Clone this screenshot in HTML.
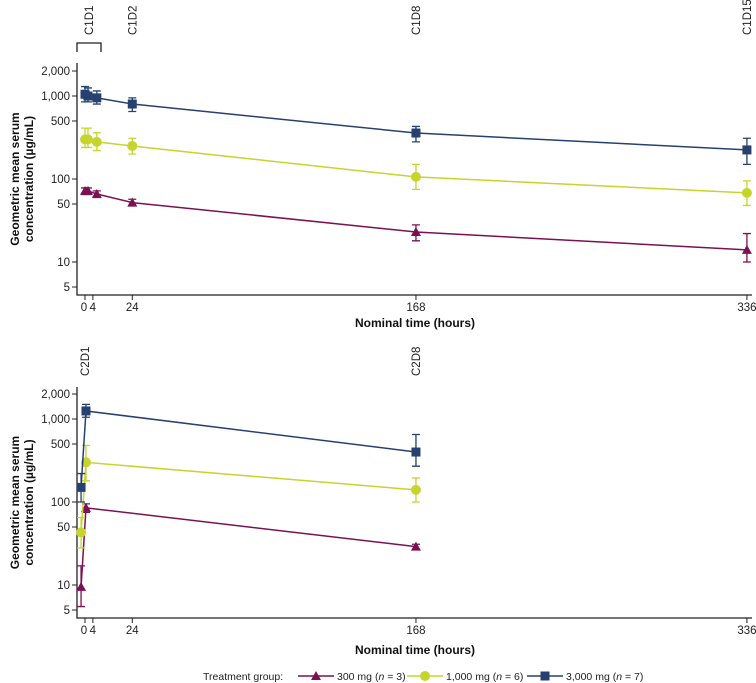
<!DOCTYPE html>
<html><head><meta charset="utf-8"><style>
body{margin:0;background:#fff;}
svg{display:block;font-family:"Liberation Sans",Arial,sans-serif;}
</style></head><body>
<svg id="chart" width="756" height="683" viewBox="0 0 756 683" xmlns="http://www.w3.org/2000/svg"></svg>
<script>
// ---- data ----
const yTicks = [2000, 1000, 500, 100, 50, 10, 5];
const yTickLabels = ["2,000", "1,000", "500", "100", "50", "10", "5"];
const xTicks = [0, 4, 24, 168, 336];
const xTickLabels = ["0", "4", "24", "168", "336"];
const groups = ["300 mg", "1,000 mg", "3,000 mg"];
const groupN = [3, 6, 7];
// Cycle 1
const c1Times = [0, 1.5, 6, 24, 168, 336];
const c1Mean300 = [72, 72, 66, 52, 23, 14];
const c1Lo300 = [65, 65, 60, 48, 18, 10];
const c1Hi300 = [78, 78, 72, 57, 28, 22];
const c1Mean1000 = [300, 300, 280, 250, 106, 68];
const c1Lo1000 = [240, 240, 220, 200, 75, 48];
const c1Hi1000 = [410, 410, 360, 310, 150, 95];
const c1Mean3000 = [1050, 1000, 950, 800, 358, 224];
const c1Lo3000 = [850, 850, 800, 650, 280, 150];
const c1Hi3000 = [1300, 1250, 1150, 950, 430, 310];
// Cycle 2
const c2Times = [-2, 0.5, 168];
const c2Mean300 = [9.5, 85, 29];
const c2Lo300 = [5.5, 75, 27];
const c2Hi300 = [17, 95, 31];
const c2Mean1000 = [43, 300, 140];
const c2Lo1000 = [28, 180, 100];
const c2Hi1000 = [65, 480, 195];
const c2Mean3000 = [150, 1250, 400];
const c2Lo3000 = [100, 1050, 270];
const c2Hi3000 = [220, 1500, 650];
const c1Visits = ["C1D2", "C1D8", "C1D15"];
const c1VisitTimes = [24, 168, 336];
const c2Visits = ["C2D1", "C2D8"];
const c2VisitTimes = [0, 168];

const colors = ["#7b1052", "#c6d52e", "#26406f"];
const shapes = ["tri", "circ", "sq"];
const NS = "http://www.w3.org/2000/svg";
const svg = document.getElementById("chart");
function mk(tag, attrs, parent) {
  const e = document.createElementNS(NS, tag);
  for (const k in attrs) e.setAttribute(k, attrs[k]);
  (parent || svg).appendChild(e);
  return e;
}
const xScale = t => 85 + t * 1.97;

function panel(p) {
  const g = mk("g", {});
  
  
  const yScale = v => p.y1000 - 83 * Math.log10(v / 1000);
  const ax = mk("path", {d: `M77 ${p.yTop} V${p.yBot} H752`, fill: "none", stroke: "#222", "stroke-width": 1.3}, g);
  
  
  yTicks.forEach((v, i) => {
    const y = yScale(v);
    mk("line", {x1: 72, x2: 77, y1: y, y2: y, stroke: "#222"}, g);
    const t = mk("text", {x: 70, y: y + 4, "text-anchor": "end", "font-size": 11.5, fill: "#222"}, g);
    t.textContent = yTickLabels[i];
    
    
  });
  xTicks.forEach((v, i) => {
    const x = xScale(v);
    mk("line", {x1: x, x2: x, y1: p.yBot, y2: p.yBot + 5, stroke: "#222"}, g);
    const t = mk("text", {x: x + (v === 0 ? -1 : v === 4 ? 0 : 0), y: p.yBot + 16, "text-anchor": "middle", "font-size": 11.5, fill: "#222"}, g);
    t.textContent = xTickLabels[i];
    
    
  });
  const xt = mk("text", {x: 415, y: p.yBot + p.titleOff, "text-anchor": "middle", "font-size": 12, "font-weight": "bold", fill: "#111"}, g);
  xt.textContent = "Nominal time (hours)";
  
  
  const yc = (p.yTop + p.yBot) / 2;
  const yt = mk("text", {transform: `translate(19 ${yc}) rotate(-90)`, "text-anchor": "middle", "font-size": 12, "font-weight": "bold", fill: "#111"}, g);
  
  
  const s1 = mk("tspan", {x: 0, dy: 0}, yt); s1.textContent = "Geometric mean serum";
  const s2 = mk("tspan", {x: 0, dy: 14}, yt); s2.textContent = "concentration (µg/mL)";
  p.visits.forEach((lab, i) => {
    const x = xScale(p.visitTimes[i]);
    const t = mk("text", {transform: `translate(${x + 4} ${p.visitY}) rotate(-90)`, "text-anchor": "start", "font-size": 11.5, fill: "#222"}, g);
    t.textContent = lab;
    
    
  });
  p.series.forEach((s, si) => {
    const c = colors[si];
    const sg = mk("g", {}, g);
    
    
    const pts = p.times.map((t, i) => [xScale(t), yScale(s.mean[i])]);
    mk("polyline", {points: pts.map(q => q.join(",")).join(" "), fill: "none", stroke: c, "stroke-width": 1.5}, sg);
    p.times.forEach((t, i) => {
      const x = xScale(t), lo = yScale(s.lo[i]), hi = yScale(s.hi[i]);
      mk("path", {d: `M${x} ${lo}V${hi}M${x-4} ${lo}H${x+4}M${x-4} ${hi}H${x+4}`, stroke: c, "stroke-width": 1.3, fill: "none"}, sg);
      drawMarker(sg, shapes[si], x, yScale(s.mean[i]), c);
    });
  });
}
function drawMarker(parent, shape, x, y, c) {
  let e;
  if (shape === "tri") e = mk("path", {d: `M${x} ${y-5}L${x+5} ${y+4}L${x-5} ${y+4}Z`, fill: c}, parent);
  else if (shape === "circ") e = mk("circle", {cx: x, cy: y, r: 5, fill: c}, parent);
  else e = mk("rect", {x: x - 4.5, y: y - 4.5, width: 9, height: 9, fill: c}, parent);
  
  
}

const br = mk("path", {d: "M77 52V43H101V52", fill: "none", stroke: "#222", "stroke-width": 1.3});


const c1d1 = mk("text", {transform: "translate(93 35) rotate(-90)", "text-anchor": "start", "font-size": 11.5, fill: "#222"});
c1d1.textContent = "C1D1";



panel({name: "cycle1-panel", y1000: 96, yTop: 63, yBot: 295, titleOff: 32, times: c1Times, visits: c1Visits, visitTimes: c1VisitTimes, visitY: 35,
  series: [{mean: c1Mean300, lo: c1Lo300, hi: c1Hi300}, {mean: c1Mean1000, lo: c1Lo1000, hi: c1Hi1000}, {mean: c1Mean3000, lo: c1Lo3000, hi: c1Hi3000}]});
panel({name: "cycle2-panel", y1000: 419, yTop: 387, yBot: 618, titleOff: 36, times: c2Times, visits: c2Visits, visitTimes: c2VisitTimes, visitY: 376,
  series: [{mean: c2Mean300, lo: c2Lo300, hi: c2Hi300}, {mean: c2Mean1000, lo: c2Lo1000, hi: c2Hi1000}, {mean: c2Mean3000, lo: c2Lo3000, hi: c2Hi3000}]});

const lg = mk("g", {});


const lt = mk("text", {x: 203, y: 680, "font-size": 10.5, fill: "#222"}, lg);
lt.textContent = "Treatment group:";


const legX = [298, 407, 527];
groups.forEach((gname, i) => {
  const eg = mk("g", {}, lg);
  
  
  const x0 = legX[i];
  mk("line", {x1: x0, x2: x0 + 36, y1: 676, y2: 676, stroke: colors[i], "stroke-width": 1.5}, eg);
  drawMarker(eg, shapes[i], x0 + 18, 676, colors[i]);
  const t = mk("text", {x: x0 + 39, y: 680, "font-size": 10.5, fill: "#222"}, eg);
  t.textContent = gname + " (";
  const it = mk("tspan", {"font-style": "italic"}, t); it.textContent = "n";
  const r = mk("tspan", {}, t); r.textContent = " = " + groupN[i] + ")";
});
</script>
</body></html>
